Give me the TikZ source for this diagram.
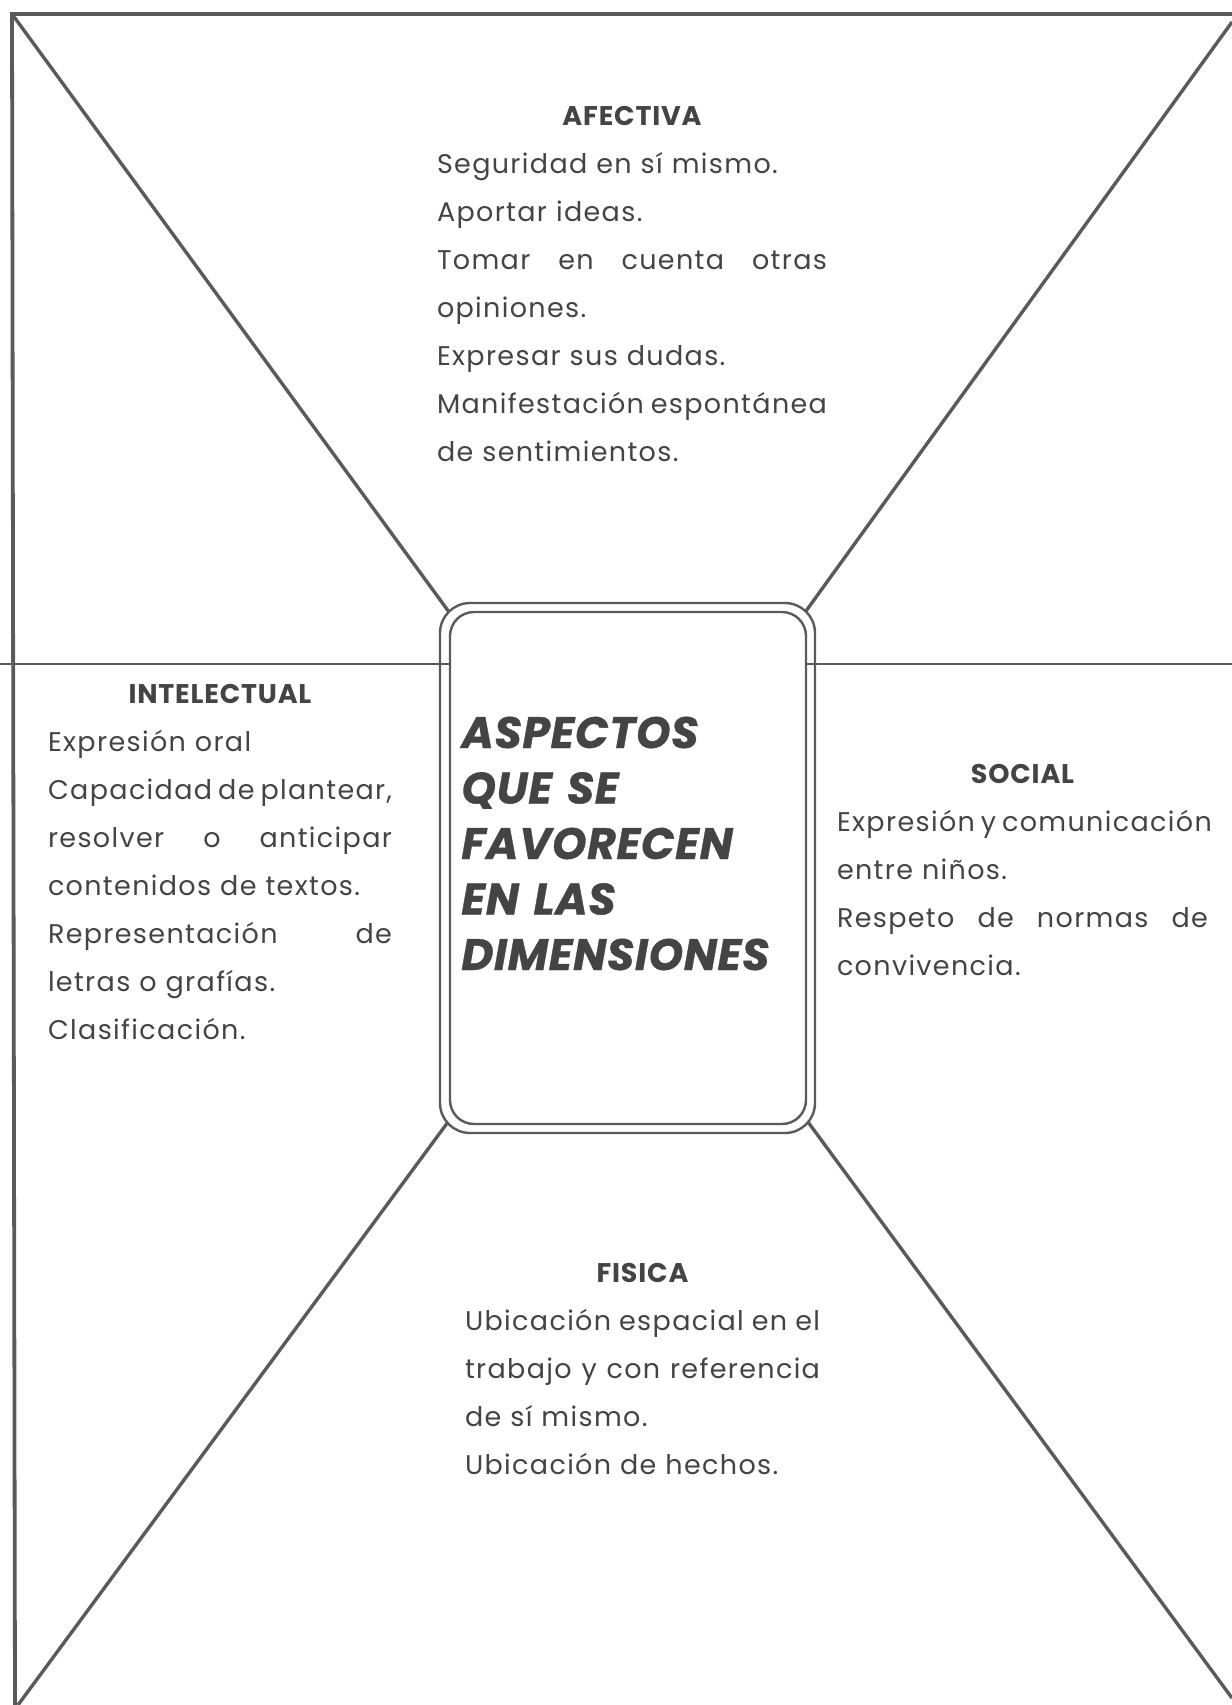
\documentclass[tikz,border=0pt]{standalone}
\usepackage{fontspec}
\setmainfont{Poppins}
\newfontfamily\bodyfont{Poppins}[LetterSpace=5]
\newfontfamily\headfont{Poppins}[LetterSpace=3]
\newfontfamily\titlefont{Poppins}[LetterSpace=1.5, FakeBold=0.8]
\definecolor{ink}{HTML}{444444}
\definecolor{rule}{HTML}{5A5A5A}
\newcommand{\jl}[1]{\leavevmode\hbox to\linewidth{#1}\\}
\newcommand{\hd}[1]{\makebox[\linewidth][c]{\headfont\bfseries #1}\\}
\newcommand{\gp}{\hskip 0.22em plus 1fill\relax}
\tikzset{
  frameline/.style={draw=rule, line width=1.9pt},
  diagline/.style={draw=rule, line width=1.7pt},
  boxline/.style={draw=rule, line width=1.2pt},
  block/.style={anchor=base west, inner sep=0pt, outer sep=0pt, align=left, text=ink,
    font=\bodyfont\fontsize{13.5}{24}\selectfont},
  titlebox/.style={anchor=base west, inner sep=0pt, align=left, text=ink, text width=170pt,
    font=\titlefont\fontsize{22}{27.75}\selectfont\bfseries\itshape}
}
\begin{document}
\begin{tikzpicture}[x=0.5pt,y=-0.5pt]
\useasboundingbox (0,0) rectangle (1232,1705);
\fill[white] (0,0) rectangle (1232,1705);
% frame corners
\coordinate (tl) at (12,14);
\coordinate (tr) at (1232,14);
\coordinate (bl) at (15,1705);
\coordinate (trd) at (1232,22);
\coordinate (bld) at (18,1705);
\coordinate (brd) at (1232,1698);
\coordinate (ml) at (0,664);
\coordinate (mr) at (1232,664);
% box corner touch points
\coordinate (c1) at (449,612);
\coordinate (c2) at (806,611);
\coordinate (c3) at (448,1122);
\coordinate (c4) at (808,1122);
\coordinate (il) at (450,664);
\coordinate (ir) at (806,664);
% frame
\draw[frameline] (tr) -- (tl) -- (bl);
\draw[boxline] (ml) -- (il);
\draw[boxline] (ir) -- (mr);
% diagonals
\draw[diagline] (tl) -- (c1);
\draw[diagline] (trd) -- (c2);
\draw[diagline] (bld) -- (c3);
\draw[diagline] (brd) -- (c4);
% central double box
\node[boxline, rounded corners=15pt, minimum width=187.5pt, minimum height=265pt, inner sep=0pt, fill=white] (outer) at (627.5,868) {};
\node[boxline, rounded corners=12pt, minimum width=178pt, minimum height=256pt, inner sep=0pt] (inner) at (628,868) {};
\draw[boxline] (outer.west |- ml) -- (inner.west |- ml);
\draw[boxline] (inner.east |- mr) -- (outer.east |- mr);
% central title
\node[titlebox] (title) at (461,748) {ASPECTOS\\QUE SE\\FAVORECEN\\EN LAS\\DIMENSIONES};
% AFECTIVA
\node[block, text width=195pt] (afe) at (437,125) {%
\hd{AFECTIVA}
Seguridad en sí mismo.\\
Aportar ideas.\\
\jl{Tomar\gp en\gp cuenta\gp otras}
opiniones.\\
Expresar sus dudas.\\
\jl{Manifestación\gp espontánea}
de sentimientos.};
% INTELECTUAL
\node[block, text width=172pt] (int) at (48,703) {%
\hd{INTELECTUAL}
Expresión oral\\
\jl{Capacidad\gp de\gp plantear,}
\jl{resolver\gp o\gp anticipar}
contenidos de textos.\\
\jl{Representación\gp de}
letras o grafías.\\
Clasificación.};
% SOCIAL
\node[block, text width=185.5pt] (soc) at (837,783) {%
\hd{SOCIAL}
\jl{Expresión\gp y\gp comunicación}
entre niños.\\
\jl{Respeto\gp de\gp normas\gp de}
convivencia.};
% FISICA
\node[block, text width=177.5pt] (fis) at (465,1282) {%
\hd{FISICA}
\jl{Ubicación\gp espacial\gp en\gp el}
\jl{trabajo\gp y\gp con\gp referencia}
de sí mismo.\\
Ubicación de hechos.};
\end{tikzpicture}
\end{document}
